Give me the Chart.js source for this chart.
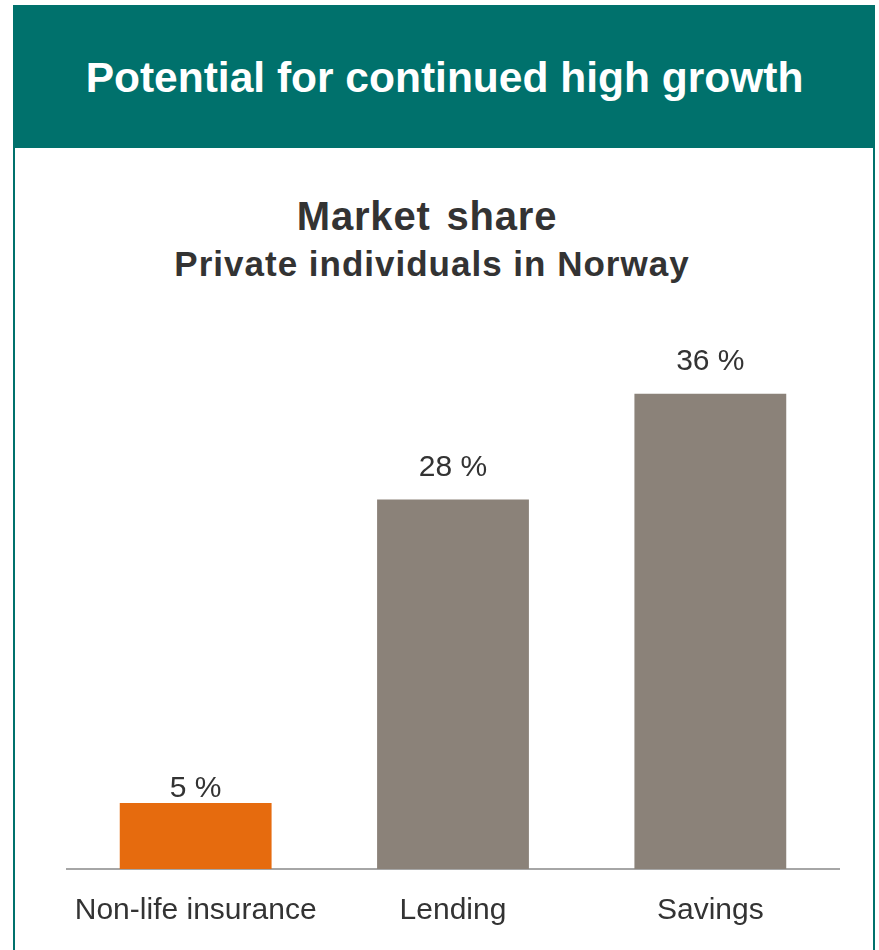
<!DOCTYPE html>
<html>
<head>
<meta charset="utf-8">
<script src="https://cdn.jsdelivr.net/npm/chart.js@4"></script>
<style>
  body { margin: 0; background: #fff; width: 879px; height: 950px; overflow: hidden; font-family: "Liberation Sans", Arial, sans-serif; }
  #panel { position: absolute; left: 13px; top: 5px; width: 858px; height: 960px; border-left: 2px solid #00716c; border-right: 2px solid #00716c; }
  #header { position: absolute; left: -1px; top: 0; width: 861px; height: 143px; background: #00716c; color: #fff; font-weight: bold; font-size: 42.5px; text-align: center; line-height: 145px; }
  .title { position: absolute; width: 830px; text-align: center; color: #333; font-weight: bold; }
  #t1 { left: 12px; top: 194px; font-size: 40px; letter-spacing: 0.8px; word-spacing: 4px; }
  #t2 { left: 17px; top: 244px; font-size: 35px; letter-spacing: 1px; }
  #wrap { position: absolute; left: 0; top: 305px; width: 879px; height: 650px; }
</style>
</head>
<body>
<div id="panel">
  <div id="header">Potential for continued high growth</div>
</div>
<div class="title" id="t1">Market share</div>
<div class="title" id="t2">Private individuals in Norway</div>
<div id="wrap"><canvas id="shareChart"></canvas></div>
<script>
// Market share per product area
const categories = ["Non-life insurance", "Lending", "Savings"];
const shares = [5, 28, 36];
const barColors = ["#e66b0e", "#8b8279", "#8b8279"];
const labelOffsets = [14, 32, 32];

// value labels above the bars
const valueLabels = {
    id: "valueLabels",
    afterDatasetsDraw(chart) {
        const ctx = chart.ctx;
        const meta = chart.getDatasetMeta(0);
        ctx.save();
        ctx.font = "30px 'Liberation Sans', Arial, sans-serif";
        ctx.fillStyle = "#333";
        ctx.textAlign = "center";
        ctx.textBaseline = "middle";
        meta.data.forEach((bar, i) => {
            ctx.fillText(shares[i] + " %", bar.x, bar.y - labelOffsets[i]);
        });
        ctx.restore();
    }
};

new Chart(document.getElementById("shareChart"), {
    type: "bar",
    data: {
        labels: categories,
        datasets: [{
            data: shares,
            backgroundColor: barColors,
            categoryPercentage: 1,
            barPercentage: 0.59
        }]
    },
    options: {
        responsive: true,
        maintainAspectRatio: false,
        animation: false,
        layout: { padding: { left: 67, right: 40, top: 36, bottom: 2 } },
        plugins: { legend: { display: false }, tooltip: { enabled: false } },
        scales: {
            y: { display: false, min: 0, max: 40 },
            x: {
                grid: { display: false, drawTicks: false },
                border: { color: "#a6a6a6", width: 2 },
                ticks: {
                    padding: 24,
                    color: "#333",
                    font: { family: "'Liberation Sans', Arial, sans-serif", size: 30 }
                }
            }
        }
    },
    plugins: [valueLabels]
});
</script>
</body>
</html>
